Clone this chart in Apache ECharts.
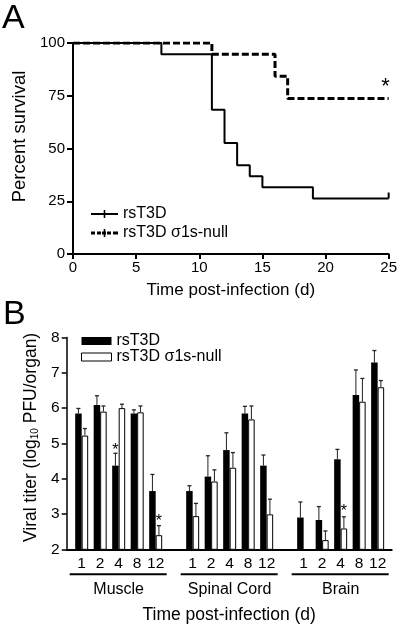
<!DOCTYPE html>
<html><head><meta charset="utf-8">
<script src="https://cdn.jsdelivr.net/npm/echarts@6/dist/echarts.min.js"></script>
<style>html,body{margin:0;padding:0;background:#fff}#c{width:400px;height:626px}</style>
</head><body><div id="c"></div><script>
// ---------- Panel A: survival ----------
const survDays_rsT3D = [0, 7, 11, 12, 13, 14, 15, 19, 25];
const surv_rsT3D     = [100, 94.7, 68.4, 52.6, 42.1, 36.8, 31.6, 26.3, 26.3];
const survDays_null  = [0, 11, 16, 17, 25];
const surv_null      = [100, 94.7, 84.2, 73.7, 73.7];
const asteriskA      = [[24.75, 79.0]];

// ---------- Panel B: viral titer ----------
const timePoints = ['1', '2', '4', '8', '12'];
const organs = ['Muscle', 'Spinal Cord', 'Brain'];
const titer_rsT3D = [[5.85, 6.09, 4.37, 5.85, 3.65], [3.65, 4.06, 4.81, 5.85, 4.37], [2.90, 2.83, 4.55, 6.37, 7.29]];
const sem_rsT3D   = [[0.14, 0.26, 0.35, 0.10, 0.47], [0.15, 0.59, 0.49, 0.20, 0.30], [0.44, 0.38, 0.28, 0.71, 0.34]];
const titer_null  = [[5.22, 5.90, 6.00, 5.88, 2.40], [2.94, 3.92, 4.31, 5.68, 2.99], [null, 2.26, 2.59, 6.18, 6.59]];
const sem_null    = [[0.20, 0.16, 0.11, 0.18, 0.27], [0.36, 0.33, 0.43, 0.38, 0.43], [null, 0.26, 0.33, 0.66, 0.19]];
// [organ index, time index, series side (-1 rsT3D, +1 null), value position]
const asteriskB = [[0, 2, -1, 4.80], [0, 4, 1, 2.78], [2, 2, 1, 3.06]];

const FONT = '"Liberation Sans", Arial, Helvetica, sans-serif';
const HALF = 3.25; // half bar width in px
const slotOf = (g, t) => g * 6 + t;

const barBlack = [], barWhite = [], errData = [], xLabelData = [];
organs.forEach((o, g) => {
  timePoints.forEach((tp, t) => {
    const s = slotOf(g, t);
    barBlack.push([s, titer_rsT3D[g][t]]);
    barWhite.push([s, titer_null[g][t]]);
    errData.push([s, titer_rsT3D[g][t], titer_rsT3D[g][t] + sem_rsT3D[g][t], -1]);
    if (titer_null[g][t] != null) errData.push([s, titer_null[g][t], titer_null[g][t] + sem_null[g][t], 1]);
    xLabelData.push([s, 2, t]);
  });
});
const groupData = organs.map((o, g) => [slotOf(g, 0), slotOf(g, 4), 2]);
const astBData = asteriskB.map(a => [slotOf(a[0], a[1]), a[3], a[2]]);

const lineA1 = survDays_rsT3D.map((d, i) => [d, surv_rsT3D[i]]);
lineA1[lineA1.length - 1] = { value: lineA1[lineA1.length - 1], symbol: 'rect', symbolSize: [2, 6], symbolOffset: [0, -3], itemStyle: { color: '#000' } };
const lineA2 = survDays_null.map((d, i) => [d, surv_null[i]]);

const chart = echarts.init(document.getElementById('c'), null, { renderer: 'canvas' });
chart.setOption({
  animation: false,
  backgroundColor: '#fff',
  textStyle: { fontFamily: FONT, color: '#000' },
  title: [
    { text: 'A', left: 2, top: 2, padding: 0, textStyle: { fontSize: 34, fontWeight: 'normal', fontFamily: FONT, color: '#000' } },
    { text: 'B', left: 3, top: 298, padding: 0, textStyle: { fontSize: 34, fontWeight: 'normal', fontFamily: FONT, color: '#000' } }
  ],
  legend: [
    {
      orient: 'vertical', left: 91, top: 206, itemWidth: 27, itemHeight: 8, itemGap: 3,
      selectedMode: false, padding: 0,
      textStyle: { fontSize: 16, fontFamily: FONT, color: '#000', lineHeight: 16 },
      data: [
        { name: 'rsT3D', icon: 'path://M0,3.1h27v1.8h-27z M12.7,0h1.6v8h-1.6z', itemStyle: { color: '#000', borderWidth: 0 } },
        { name: 'rsT3D σ1s-null', icon: 'path://M0,2.5h4v3h-4z M6,2.5h4v3h-4z M16,2.5h4v3h-4z M22,2.5h5v3h-5z M11,2.5h4v3h-4z M12.7,0h1.6v8h-1.6z', itemStyle: { color: '#000', borderWidth: 0 } }
      ]
    },
    {
      orient: 'vertical', left: 81, top: 333, itemWidth: 30, itemHeight: 8, itemGap: 0,
      selectedMode: false, padding: 0,
      textStyle: { fontSize: 16, fontFamily: FONT, color: '#000', lineHeight: 15 },
      data: [
        { name: 'rsT3D', icon: 'rect', itemStyle: { color: '#000', borderWidth: 0 } },
        { name: 'rsT3D σ1s-null', icon: 'rect', itemStyle: { color: '#fff', borderColor: '#000', borderWidth: 1 } }
      ]
    }
  ],
  grid: [
    { left: 73, right: 9, top: 43, height: 211, containLabel: false },
    { left: 66.7, right: 8.3, top: 337.5, height: 211.8, containLabel: false }
  ],
  xAxis: [
    {
      gridIndex: 0, type: 'value', min: 0, max: 25, interval: 5,
      name: 'Time post-infection (d)', nameLocation: 'middle', nameGap: 28,
      nameTextStyle: { fontSize: 17, fontFamily: FONT, color: '#000' },
      axisLine: { lineStyle: { color: '#000', width: 2 } },
      axisTick: { length: 5, lineStyle: { color: '#000', width: 2 } },
      axisLabel: { fontSize: 15, margin: 6, color: '#000', fontFamily: FONT },
      splitLine: { show: false }
    },
    {
      gridIndex: 1, type: 'value', min: -0.81, max: 16.76,
      name: 'Time post-infection (d)', nameLocation: 'middle', nameGap: 57,
      nameTextStyle: { fontSize: 17.5, fontFamily: FONT, color: '#000' },
      axisLine: { onZero: false, lineStyle: { color: '#000', width: 2 } },
      axisTick: { show: false }, axisLabel: { show: false }, splitLine: { show: false }
    }
  ],
  yAxis: [
    {
      gridIndex: 0, type: 'value', min: 0, max: 100, interval: 25,
      name: 'Percent survival', nameLocation: 'middle', nameGap: 32,
      nameTextStyle: { fontSize: 18.5, fontFamily: FONT, color: '#000', padding: [0, 0, 0, 24] },
      axisLine: { show: true, lineStyle: { color: '#000', width: 2 } },
      axisTick: { show: true, length: 6, lineStyle: { color: '#000', width: 2 } },
      axisLabel: { fontSize: 15, margin: 8, color: '#000', fontFamily: FONT },
      splitLine: { show: false }
    },
    {
      gridIndex: 1, type: 'value', min: 2, max: 8, interval: 1,
      name: 'Viral titer (log{sub|10} PFU/organ)', nameLocation: 'middle', nameGap: 22,
      nameTextStyle: {
        fontSize: 17.5, fontFamily: FONT, color: '#000', padding: [0, 0, 0, 12],
        rich: { sub: { fontSize: 10, fontFamily: FONT, color: '#000', padding: [8, 0, 0, 0] } }
      },
      axisLine: { show: true, onZero: false, lineStyle: { color: '#000', width: 1.5 } },
      axisTick: { show: true, length: 5, lineStyle: { color: '#000', width: 1.5 } },
      axisLabel: { fontSize: 15.5, margin: 7, color: '#000', fontFamily: FONT },
      splitLine: { show: false }
    }
  ],
  series: [
    {
      name: 'rsT3D', type: 'line', step: 'end', xAxisIndex: 0, yAxisIndex: 0,
      data: lineA1, symbol: 'none', showSymbol: true,
      lineStyle: { color: '#000', width: 2 }, itemStyle: { color: '#000' }, z: 3
    },
    {
      name: 'rsT3D σ1s-null', type: 'line', step: 'end', xAxisIndex: 0, yAxisIndex: 0,
      data: lineA2, symbol: 'none',
      lineStyle: { color: '#000', width: 3, type: [7, 3] }, itemStyle: { color: '#000' }, z: 4
    },
    {
      type: 'custom', xAxisIndex: 0, yAxisIndex: 0, data: asteriskA, silent: true, clip: false,
      encode: { x: 0, y: 1 },
      renderItem: (params, api) => {
        const p = api.coord([api.value(0), api.value(1)]);
        return { type: 'text', style: { text: '*', x: p[0], y: p[1], align: 'center', verticalAlign: 'middle', fontSize: 22, fontFamily: FONT, fill: '#000' } };
      }
    },
    {
      name: 'rsT3D', type: 'bar', xAxisIndex: 1, yAxisIndex: 1, data: barBlack,
      barWidth: 6.5, barGap: '0%', itemStyle: { color: '#000' }, z: 2
    },
    {
      name: 'rsT3D σ1s-null', type: 'bar', xAxisIndex: 1, yAxisIndex: 1, data: barWhite,
      barWidth: 6.5, barGap: '0%', itemStyle: { color: '#fff', borderColor: '#000', borderWidth: 1 }, z: 2
    },
    {
      type: 'custom', xAxisIndex: 1, yAxisIndex: 1, data: errData, silent: true, clip: false, z: 3,
      encode: { x: 0, y: [1, 2] },
      renderItem: (params, api) => {
        const x = api.value(0), side = api.value(3);
        const p1 = api.coord([x, api.value(1)]);
        const p2 = api.coord([x, api.value(2)]);
        const cx = p1[0] + side * HALF;
        return {
          type: 'group', children: [
            { type: 'line', shape: { x1: cx, y1: p1[1], x2: cx, y2: p2[1] }, style: { stroke: '#222', lineWidth: 1 } },
            { type: 'line', shape: { x1: cx - 2, y1: p2[1], x2: cx + 2, y2: p2[1] }, style: { stroke: '#222', lineWidth: 1.3 } }
          ]
        };
      }
    },
    {
      type: 'custom', xAxisIndex: 1, yAxisIndex: 1, data: astBData, silent: true, clip: false, z: 4,
      encode: { x: 0, y: 1 },
      renderItem: (params, api) => {
        const p = api.coord([api.value(0), api.value(1)]);
        return { type: 'text', style: { text: '*', x: p[0] + api.value(2) * HALF, y: p[1], align: 'center', verticalAlign: 'middle', fontSize: 16, fontFamily: FONT, fill: '#000' } };
      }
    },
    {
      type: 'custom', xAxisIndex: 1, yAxisIndex: 1, data: xLabelData, silent: true, clip: false, z: 4,
      encode: { x: 0, y: 1 },
      renderItem: (params, api) => {
        const p = api.coord([api.value(0), api.value(1)]);
        return { type: 'text', style: { text: timePoints[api.value(2)], x: p[0], y: p[1] + 14, align: 'center', verticalAlign: 'middle', fontSize: 15.5, fontFamily: FONT, fill: '#000' } };
      }
    },
    {
      type: 'custom', xAxisIndex: 1, yAxisIndex: 1, data: groupData, silent: true, clip: false, z: 4,
      encode: { x: [0, 1], y: 2 },
      renderItem: (params, api) => {
        const a = api.coord([api.value(0), api.value(2)]);
        const b = api.coord([api.value(1), api.value(2)]);
        const y = a[1] + 25;
        return {
          type: 'group', children: [
            { type: 'line', shape: { x1: a[0] - 12, y1: y, x2: b[0] + 11, y2: y }, style: { stroke: '#000', lineWidth: 2 } },
            { type: 'text', style: { text: organs[params.dataIndex], x: (a[0] + b[0]) / 2, y: y + 15, align: 'center', verticalAlign: 'middle', fontSize: 16, fontFamily: FONT, fill: '#000' } }
          ]
        };
      }
    }
  ]
});
</script></body></html>
